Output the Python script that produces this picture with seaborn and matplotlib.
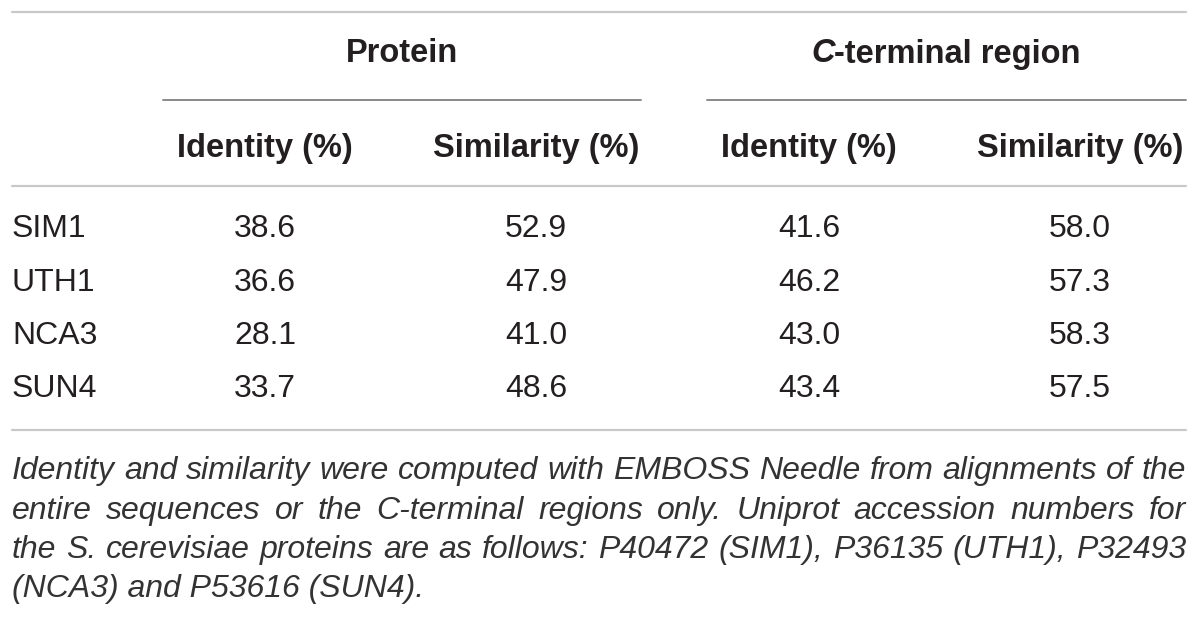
import matplotlib
matplotlib.use("Agg")
import matplotlib.pyplot as plt
import seaborn as sns
import pandas as pd

genes = ["SIM1", "UTH1", "NCA3", "SUN4"]
protein_identity = [38.6, 36.6, 28.1, 33.7]
protein_similarity = [52.9, 47.9, 41.0, 48.6]
cterm_identity = [41.6, 46.2, 43.0, 43.4]
cterm_similarity = [58.0, 57.3, 58.3, 57.5]
column_labels = ["Identity (%)", "Similarity (%)", "Identity (%)", "Similarity (%)"]
footnote_lines = [
    "Identity and similarity were computed with EMBOSS Needle from alignments of the",
    "entire sequences or the C-terminal regions only. Uniprot accession numbers for",
    "the S. cerevisiae proteins are as follows: P40472 (SIM1), P36135 (UTH1), P32493",
    "(NCA3) and P53616 (SUN4).",
]

df = pd.DataFrame({
    "gene": genes,
    "prot_id": protein_identity,
    "prot_sim": protein_similarity,
    "ct_id": cterm_identity,
    "ct_sim": cterm_similarity,
})

sns.set_theme(style="white")
plt.rcParams["font.family"] = ["Liberation Sans", "DejaVu Sans"]

fig = plt.figure(figsize=(12, 6.2), dpi=100)
ax = fig.add_axes([0, 0, 1, 1])
ax.set_xlim(0, 1200)
ax.set_ylim(620, 0)
ax.axis("off")
renderer = fig.canvas.get_renderer()

ink = "#231f20"
left, right = 12, 1186
col_x = [265, 536, 809, 1080]
row_y = [229, 283, 336, 389]

# horizontal rules
light = "#c9c9c9"
ax.plot([left, right], [12, 12], color=light, lw=1.6)
ax.plot([left, right], [186, 186], color=light, lw=1.6)
ax.plot([left, right], [430, 430], color=light, lw=1.6)
ax.plot([163, 641], [100, 100], color="#8a8a8a", lw=1.4)
ax.plot([707, right], [100, 100], color="#8a8a8a", lw=1.4)

# group headers
ax.text(402, 54, "Protein", ha="center", va="center", fontsize=23.5,
        fontweight="bold", color=ink)
c_part = ax.text(0, 54, "C", ha="left", va="center", fontsize=23.5,
                 fontweight="bold", style="italic", color=ink)
rest = ax.text(0, 54, "-terminal region", ha="left", va="center", fontsize=23.5,
               fontweight="bold", color=ink)
wc = c_part.get_window_extent(renderer).width
wr = rest.get_window_extent(renderer).width
start = 946 - (wc + wr) / 2
c_part.set_x(start)
rest.set_x(start + wc)

# column headers
for x, lab in zip(col_x, column_labels):
    ax.text(x, 148, lab, ha="center", va="center", fontsize=23.5,
            fontweight="bold", color=ink)

# body rows
cols = ["prot_id", "prot_sim", "ct_id", "ct_sim"]
for y, (_, row) in zip(row_y, df.iterrows()):
    ax.text(left, y, row["gene"], ha="left", va="center", fontsize=23, color=ink)
    for x, c in zip(col_x, cols):
        ax.text(x, y, f"{row[c]:.1f}", ha="center", va="center", fontsize=23,
                color=ink)


def justify(line, y, x0, x1, **kw):
    words = line.split(" ")
    texts = [ax.text(0, y, w, ha="left", va="center", **kw) for w in words]
    widths = [t.get_window_extent(renderer).width for t in texts]
    gap = (x1 - x0 - sum(widths)) / (len(words) - 1)
    x = x0
    for t, w in zip(texts, widths):
        t.set_x(x)
        x += w + gap


foot_y = [471, 511, 550, 589]
foot_kw = dict(fontsize=23, style="italic", color="#333333")
for i, (line, y) in enumerate(zip(footnote_lines, foot_y)):
    if i < len(footnote_lines) - 1:
        justify(line, y, left, right, **foot_kw)
    else:
        ax.text(left, y, line, ha="left", va="center", **foot_kw)

fig.savefig("out.png", dpi=100)
